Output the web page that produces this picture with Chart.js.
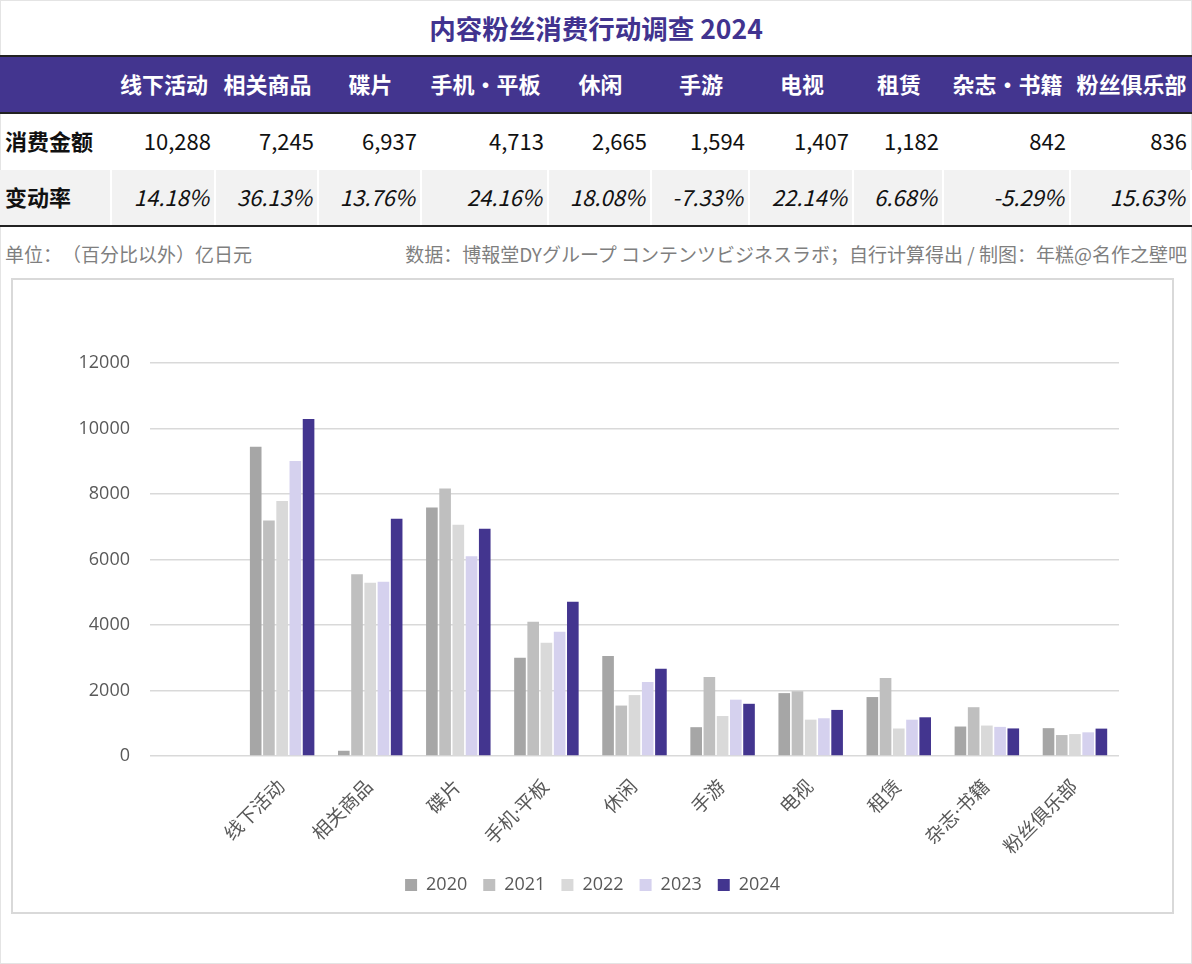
<!DOCTYPE html>
<html>
<head>
<meta charset="utf-8">
<script src="https://cdn.jsdelivr.net/npm/chart.js@4.4.1/dist/chart.umd.min.js"></script>
<style>
html,body{margin:0;padding:0;background:#fff;}
body{width:1192px;height:964px;position:relative;overflow:hidden;font-family:"Noto Sans CJK SC","Noto Sans",sans-serif;text-spacing-trim:space-all;}
#frame{position:absolute;left:0;top:0;width:1190px;height:962px;border:1px solid #e4e4e4;}
#title{position:absolute;left:0;top:8px;width:1192px;text-align:center;font-size:26.5px;font-weight:bold;color:#41338f;line-height:40px;}
#tbl{position:absolute;left:0;top:55px;width:1192px;}
.row{display:flex;height:55px;align-items:center;}
.row div{box-sizing:border-box;height:100%;display:flex;align-items:center;font-size:22px;color:#111;padding-bottom:4px;}
.hd{background:#43358f;border-top:2px solid #222;border-bottom:2px solid #222;height:55px;}
.hd div{color:#fff;font-weight:bold;justify-content:center;}
.r1 div{justify-content:flex-end;padding-right:5px;}
.r2{background:#fff;border-bottom:2px solid #222;height:55px;margin-top:1px;}
.r2 div{background:#f2f2f2;justify-content:flex-end;padding-right:5px;font-style:italic;border-right:2px solid #fff;}
.row div.lb{justify-content:flex-start;padding-left:5px;font-weight:bold;font-style:normal;}
.note{position:absolute;top:240px;font-size:19px;color:#7f7f7f;line-height:28px;}
#box{position:absolute;left:11px;top:278px;width:1159px;height:632px;border:2px solid #d9d9d9;}
#wrap{position:absolute;left:0;top:0;width:1159px;height:632px;}
</style>
</head>
<body>
<div id="frame"></div>
<div id="title">内容粉丝消费行动调查 2024</div>
<div id="tbl"></div>
<div class="note" style="left:5px;">单位：（百分比以外）亿日元</div>
<div class="note" style="right:5px;">数据：博報堂DYグループ コンテンツビジネスラボ；自行计算得出 / 制图：年糕@名作之壁吧</div>
<div id="box"><div id="wrap"><canvas id="c"></canvas></div></div>
<script>
/* table + chart data */
var head_names=['线下活动','相关商品','碟片','手机・平板','休闲','手游','电视','租赁','杂志・书籍','粉丝俱乐部'];
var axis_names=['','线下活动','相关商品','碟片','手机·平板','休闲','手游','电视','租赁','杂志·书籍','粉丝俱乐部'];
var years=['2020','2021','2022','2023','2024'];
var v2020=[null,9440,160,7590,3000,3050,880,1920,1800,900,850];
var v2021=[null,7190,5550,8170,4100,1540,2410,1980,2380,1490,640];
var v2022=[null,7790,5290,7060,3460,1860,1220,1110,840,930,670];
var v2023=[null,9010,5322,6098,3796,2257,1720,1152,1108,889,723];
var v2024=[null,10288,7245,6937,4713,2665,1594,1407,1182,842,836];
var change_rate=[14.18,36.13,13.76,24.16,18.08,-7.33,22.14,6.68,-5.29,15.63];
var y_ticks=[0,2000,4000,6000,8000,10000,12000];
var col_w=[112,104,103,103,127,103,98,104,90,127,121];
var colors=['#a6a6a6','#bfbfbf','#d9d9d9','#d5d1ee','#43358f'];
/* ######################################################################## */
var ins=function(p,cls,html,w){var d=document.createElement('div');if(cls){d.className=cls;}
	if(html!==undefined){d.innerHTML=html;}if(w){d.style.width=w+'px';d.style.flex='0 0 '+w+'px';}p.appendChild(d);return d;};
var build_table=function(){var t=document.getElementById('tbl');
	let hd=ins(t,'row hd');ins(hd,'',' ',col_w[0]);
	for(let i=0;i<head_names.length;i++){ins(hd,'',head_names[i],col_w[i+1]);}
	let r1=ins(t,'row r1');ins(r1,'lb','消费金额',col_w[0]);
	for(let i=1;i<v2024.length;i++){ins(r1,'',v2024[i].toLocaleString('en-US'),col_w[i]);}
	let r2=ins(t,'row r2');ins(r2,'lb','变动率',col_w[0]);
	for(let i=0;i<change_rate.length;i++){ins(r2,'',change_rate[i].toFixed(2)+'%',col_w[i+1]);}
};build_table();
/* ######################################################################## */
var series=[v2020,v2021,v2022,v2023,v2024];
var datasets=[];
for(let s=0;s<series.length;s++){datasets.push({label:years[s],data:series[s],backgroundColor:colors[s],
	borderWidth:0,categoryPercentage:0.75,barPercentage:0.88});}
var num_font='"Open Sans","Noto Sans",sans-serif';
var lbl_font='"Noto Sans","Noto Sans CJK SC",sans-serif';
new Chart(document.getElementById('c'),{type:'bar',
	data:{labels:axis_names,datasets:datasets},
	options:{responsive:true,maintainAspectRatio:false,animation:false,
		layout:{padding:{top:83,right:0,left:0,bottom:8}},
		plugins:{tooltip:{enabled:false},
			legend:{position:'bottom',labels:{boxWidth:12,boxHeight:12,padding:16,color:'#595959',font:{family:num_font,size:18}}}},
		scales:{
			x:{grid:{display:false},border:{display:false},
				ticks:{color:'#595959',font:{family:lbl_font,size:19},maxRotation:45,minRotation:45,autoSkip:false,padding:12},
				afterFit:function(s){s.height=104;}},
			y:{min:0,max:12000,grid:{color:'#d9d9d9',lineWidth:1.5,drawTicks:false},border:{display:false},
				afterBuildTicks:function(s){s.ticks=y_ticks.map(function(v){return {value:v};});},
				ticks:{color:'#595959',font:{family:num_font,size:18},padding:20,callback:function(v){return String(v);}},
				afterFit:function(s){s.width=137;}},
			yr:{position:'right',min:0,max:12000,grid:{display:false},border:{display:false},ticks:{display:false},
				afterFit:function(s){s.width=53;}}
		}
	}
});
</script>
</body>
</html>
